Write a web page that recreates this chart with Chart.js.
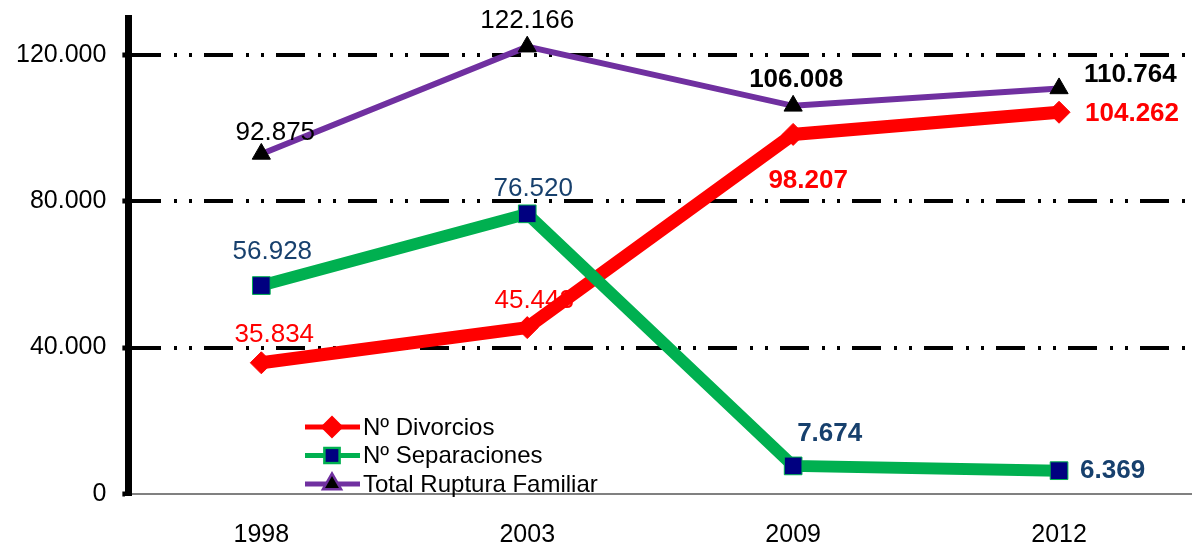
<!DOCTYPE html>
<html>
<head>
<meta charset="utf-8">
<script src="https://cdn.jsdelivr.net/npm/chart.js@4"></script>
<style>
  html, body { margin: 0; padding: 0; background: #fff; }
  #wrap { width: 1192px; height: 546px; position: relative; }
</style>
</head>
<body>
<div id="wrap"><canvas id="rupturaChart"></canvas></div>
<script>
// data
const years = ['1998', '2003', '2009', '2012'];
const divorcios = [35834, 45443, 98207, 104262];
const separaciones = [56928, 76520, 7674, 6369];
const totalRuptura = [92875, 122166, 106008, 110764];
const yTicks = [0, 40000, 80000, 120000];

const FONT = "'Liberation Sans', Arial, sans-serif";

function fmt(v) {
  return String(v).replace(/\B(?=(\d{3})+(?!\d))/g, '.');
}

// label placement per series / point: [dx, dy, align, bold]
const labelStyle = {
  0: { color: '#FF0000', pos: [[13, -28, 'center', false], [7, -27, 'center', false], [15, 46, 'center', true], [26, 2, 'left', true]] },
  1: { color: '#17406D', pos: [[11, -34, 'center', false], [6, -25, 'center', false], [4, -32, 'left', true], [21, 0, 'left', true]] },
  2: { color: '#000000', pos: [[14, -21, 'center', false], [0, -26, 'center', false], [3, -26, 'center', true], [25, -14, 'left', true]] }
};

const valueLabels = {
  id: 'valueLabels',
  afterDatasetsDraw(chart) {
    const ctx = chart.ctx;
    ctx.save();
    ctx.textBaseline = 'middle';
    chart.data.datasets.forEach((ds, di) => {
      const meta = chart.getDatasetMeta(di);
      const st = labelStyle[di];
      meta.data.forEach((pt, i) => {
        const p = st.pos[i];
        ctx.font = (p[3] ? 'bold ' : '') + '26px ' + FONT;
        ctx.fillStyle = st.color;
        ctx.textAlign = p[2];
        ctx.fillText(fmt(ds.data[i]), pt.x + p[0], pt.y + p[1]);
      });
    });
    ctx.restore();
  }
};

// legend sits inside the plot, bottom left
const insideLegend = {
  id: 'insideLegend',
  afterDraw(chart) {
    const ctx = chart.ctx;
    const x0 = 305, y0 = 427, row = 28.5;
    ctx.save();
    ctx.font = '24px ' + FONT;
    ctx.textBaseline = 'middle';
    ctx.textAlign = 'left';
    chart.data.datasets.forEach((ds, i) => {
      const y = y0 + i * row;
      ctx.strokeStyle = ds.borderColor;
      ctx.lineWidth = 5;
      ctx.beginPath();
      ctx.moveTo(x0, y);
      ctx.lineTo(x0 + 55, y);
      ctx.stroke();
      Chart.helpers.drawPoint(ctx, {
        pointStyle: ds.pointStyle,
        radius: ds.pointStyle === 'rect' ? 9 : 8,
        borderWidth: 1
      }, x0 + 27, y);
      ctx.fillStyle = ds.pointBackgroundColor;
      ctx.strokeStyle = ds.pointBorderColor;
      ctx.fill();
      ctx.fillStyle = '#000';
      ctx.fillText(ds.label, x0 + 58, y + 1);
    });
    ctx.restore();
  }
};

new Chart(document.getElementById('rupturaChart'), {
  type: 'line',
  data: {
    labels: years,
    datasets: [
      {
        label: 'Nº Divorcios', data: divorcios, order: 3,
        borderColor: '#FF0000', borderWidth: 13,
        pointStyle: 'rectRot', pointRadius: 11,
        pointBackgroundColor: '#FF0000', pointBorderColor: '#FF0000', pointBorderWidth: 1
      },
      {
        label: 'Nº Separaciones', data: separaciones, order: 2,
        borderColor: '#00B050', borderWidth: 12,
        pointStyle: 'rect', pointRadius: 12.5,
        pointBackgroundColor: '#000080', pointBorderColor: '#00B050', pointBorderWidth: 1
      },
      {
        label: 'Total Ruptura Familiar', data: totalRuptura, order: 1,
        borderColor: '#7030A0', borderWidth: 6,
        pointStyle: 'triangle', pointRadius: 10.5,
        pointBackgroundColor: '#000000', pointBorderColor: '#000000', pointBorderWidth: 1
      }
    ]
  },
  options: {
    responsive: true,
    maintainAspectRatio: false,
    animation: false,
    layout: { autoPadding: false, padding: { top: 18, left: 0, right: 0, bottom: 0 } },
    elements: { line: { tension: 0 } },
    plugins: {
      legend: { display: false },
      tooltip: { enabled: false }
    },
    scales: {
      x: {
        offset: true,
        grid: { display: false, drawTicks: false },
        border: { color: '#808080', width: 2 },
        ticks: { color: '#000', padding: 26, font: { family: FONT, size: 25 } },
        afterFit: axis => { axis.height = 52; }
      },
      y: {
        min: 0,
        max: 130000,
        afterBuildTicks: axis => { axis.ticks = yTicks.map(v => ({ value: v })); },
        afterFit: axis => { axis.paddingTop = 0; axis.paddingBottom = 0; },
        border: { color: '#000', width: 7, dash: [29, 13, 3, 12, 3, 12] },
        grid: {
          color: c => (c.tick && c.tick.value === 0) ? 'rgba(0,0,0,0)' : '#000',
          lineWidth: 4,
          tickColor: '#000',
          tickLength: 6,
          tickWidth: 5,
          tickBorderDash: [100, 0]
        },
        ticks: {
          color: '#000', padding: 16,
          font: { family: FONT, size: 25 },
          callback: v => fmt(v)
        }
      }
    }
  },
  plugins: [valueLabels, insideLegend]
});
</script>
</body>
</html>
